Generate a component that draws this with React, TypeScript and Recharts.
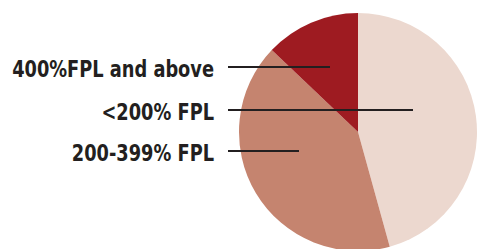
import React from 'react';
import { PieChart, Pie, Cell } from 'recharts';

const groups = ['<200% FPL', '200-399% FPL', '400%FPL and above'];
const shares = [45.7, 41.4, 12.9];
const colors = ['#ecd8cf', '#c5846f', '#9e1b21'];

// label placement, relative to the pie centre: text row y, and where the leader line stops
const leaderY = [-22, 19, -65];
const leaderEnd = [55, -59, -28];

const data = groups.map((name, i) => ({ name, value: shares[i] }));

const renderLabel = (props: any) => {
    const { cx, cy, index } = props;
    const y = cy + leaderY[index];
    return (
        <g key={'lbl-' + index}>
            <text
                x={0}
                y={0}
                transform={`translate(${cx - 144},${y + 2}) scale(0.86,1)`}
                textAnchor="end"
                dominantBaseline="central"
                fill="#231f20"
                fontSize={23}
                fontWeight="bold"
                fontFamily="'Liberation Sans Narrow', 'DejaVu Sans Condensed', sans-serif"
            >
                {groups[index]}
            </text>
            <line x1={cx - 130} y1={y} x2={cx + leaderEnd[index]} y2={y} stroke="#231f20" strokeWidth={2} />
        </g>
    );
};

const App = () => {
    return (
        <div style={{ position: 'absolute', left: 0, top: 0 }}>
            <PieChart width={479} height={249} margin={{ top: 0, right: 0, bottom: 0, left: 0 }}>
                <Pie
                    data={data}
                    dataKey="value"
                    cx={358}
                    cy={132}
                    outerRadius={119}
                    startAngle={90}
                    endAngle={-270}
                    stroke="none"
                    label={renderLabel}
                    labelLine={false}
                    isAnimationActive={false}
                >
                    {data.map((d, i) => (
                        <Cell key={d.name} fill={colors[i]} />
                    ))}
                </Pie>
            </PieChart>
        </div>
    );
};

export default App;
